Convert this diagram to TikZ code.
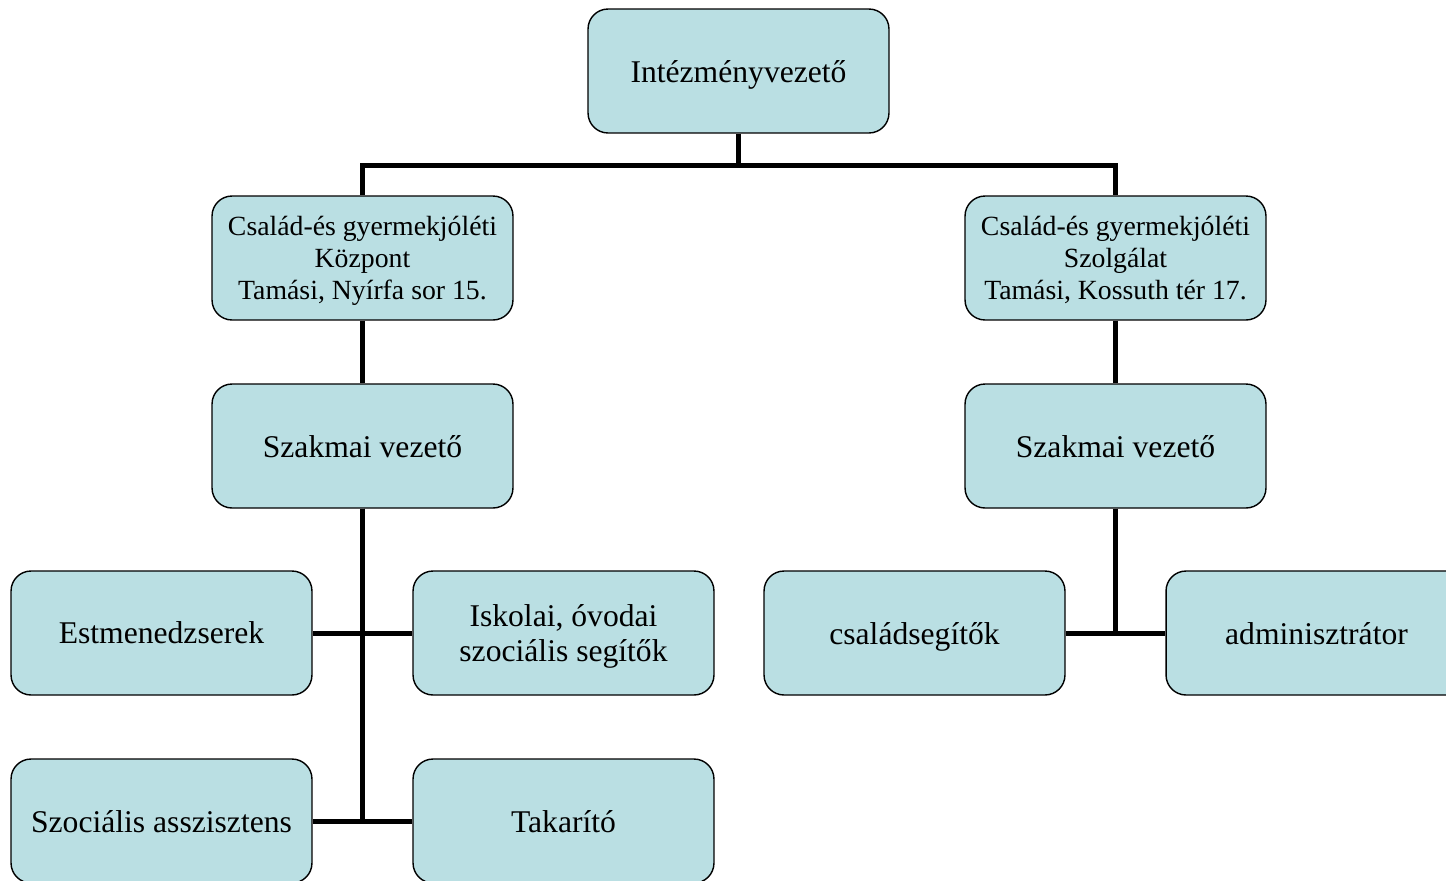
\documentclass[tikz,border=0pt]{standalone}
\usepackage{fontspec}
\setmainfont{Liberation Serif}
\usetikzlibrary{positioning}
\definecolor{BoxTeal}{HTML}{BADFE3}

\begin{document}
\begin{tikzpicture}[x=0.02cm, y=-0.02cm,
    box/.style={draw, thick, rounded corners=0.4cm, fill=BoxTeal,
      minimum width=6.02cm, minimum height=2.48cm, inner sep=0pt,
      text depth=0pt, align=center, font=\fontsize{18}{20}\selectfont},
    smallbox/.style={box, font=\fontsize{15.8}{18.1}\selectfont},
    link/.style={line width=0.1cm}]
  \useasboundingbox (0,0) rectangle (1446,880);
  \clip (0,0) rectangle (1446,880);

  \node[box] (Vezeto) at (738.5,71) {Intézményvezető};
  \node[smallbox] (Kozpont) at (362.5,258)
    {Család-és gyermekjóléti\\Központ\\Tamási, Nyírfa sor 15.};
  \node[smallbox] (Szolgalat) at (1115.5,258)
    {Család-és gyermekjóléti\\Szolgálat\\Tamási, Kossuth tér 17.};

  \node[box] (SzakmaiL) at (362.5,446) {Szakmai vezető};
  \node[box] (SzakmaiR) at (1115.5,446) {Szakmai vezető};

  \node[box] (Estm) at (161.5,633) {Estmenedzserek};
  \node[box] (Iskolai) at (563.5,633) {Iskolai, óvodai\\szociális segítők};
  \node[box] (Csalad) at (914.5,633) {családsegítők};
  \node[box] (Admin) at (1316.5,633) {adminisztrátor};

  \node[box] (Asszisztens) at (161.5,821) {Szociális asszisztens};
  \node[box] (Takarito) at (563.5,821) {Takarító};

  % \draw [link] (Vezeto) -- (Kozpont);
  \coordinate (Split) at (738.5,165);
  \draw [link] (Vezeto) -- (Split) -| (Kozpont);
  \draw [link] (Split) -| (Szolgalat);

  \draw [link] (Kozpont) -- (SzakmaiL);
  \draw [link] (Szolgalat) -- (SzakmaiR);

  \foreach \n in {Estm,Iskolai,Asszisztens,Takarito}{%
    \draw [link] (SzakmaiL) |- (\n);
  }
  \foreach \n in {Csalad,Admin}{%
    \draw [link] (SzakmaiR) |- (\n);
  }
\end{tikzpicture}
\end{document}
